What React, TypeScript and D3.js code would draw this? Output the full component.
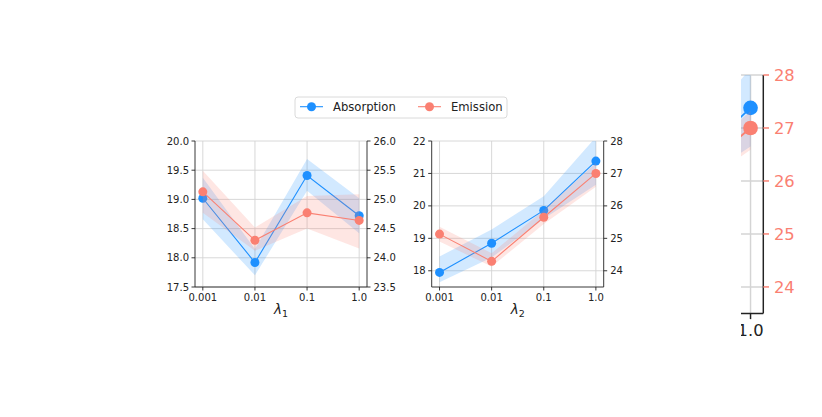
import React from 'react';
import * as d3 from 'd3';

// x categories shared by every panel
const categories = ['0.001', '0.01', '0.1', '1.0'];

// panel 1 (lambda_1)
const absorption1 = [19.02, 17.92, 19.41, 18.72];
const absorption1Lo = [18.66, 17.7, 19.15, 18.42];
const absorption1Hi = [19.37, 18.15, 19.69, 19.02];
const emission1 = [25.13, 24.3, 24.77, 24.64];
const emission1Lo = [24.77, 24.12, 24.5, 24.16];
const emission1Hi = [25.49, 24.52, 25.06, 25.09];

// panel 2 (lambda_2), also drawn as the cropped enlarged copy on the right
const absorption2 = [17.95, 18.85, 19.86, 21.38];
const absorption2Lo = [17.65, 18.41, 19.6, 20.65];
const absorption2Hi = [18.44, 19.27, 20.3, 22.12];
const emission2 = [25.13, 24.29, 25.65, 27.0];
const emission2Lo = [24.9, 24.13, 25.44, 26.59];
const emission2Hi = [25.36, 24.54, 25.87, 27.32];

const leftTicks1 = [17.5, 18.0, 18.5, 19.0, 19.5, 20.0];
const rightTicks1 = [23.5, 24.0, 24.5, 25.0, 25.5, 26.0];
const leftTicks2 = [18, 19, 20, 21, 22];
const rightTicks2 = [24, 25, 26, 27, 28];

const legendLabels = ['Absorption', 'Emission'];

const BLUE = '#1E90FF';
const SALMON = '#FA8072';
const FONT = '"DejaVu Sans", sans-serif';

interface Box { x: number; y: number; w: number; h: number }

interface PanelProps {
  id: string;
  box: Box;
  k: number;
  abs: number[]; absLo: number[]; absHi: number[];
  emi: number[]; emiLo: number[]; emiHi: number[];
  leftDomain: [number, number];
  rightDomain: [number, number];
  leftTicks: number[];
  rightTicks: number[];
  fmt: string;
  sub: string;
  rightColor: string;
  clipLeft?: number;
}

const Panel: React.FC<PanelProps> = (p) => {
  const { box, k } = p;
  const x = d3.scalePoint<string>().domain(categories).range([box.x, box.x + box.w]).padding(0.15);
  const yL = d3.scaleLinear().domain(p.leftDomain).range([box.y + box.h, box.y]);
  const yR = d3.scaleLinear().domain(p.rightDomain).range([box.y + box.h, box.y]);
  const f = d3.format(p.fmt);
  const bottom = box.y + box.h;
  const right = box.x + box.w;
  const tick = 3.5 * k;
  const fs = 10 * k;

  const band = (lo: number[], hi: number[], y: d3.ScaleLinear<number, number>) =>
    d3.area<number>()
      .x((_, i) => x(categories[i])!)
      .y0((_, i) => y(lo[i]))
      .y1((_, i) => y(hi[i]))(lo) || '';
  const line = (vals: number[], y: d3.ScaleLinear<number, number>) =>
    d3.line<number>()
      .x((_, i) => x(categories[i])!)
      .y(d => y(d))(vals) || '';

  const series = [
    { vals: p.abs, lo: p.absLo, hi: p.absHi, y: yL, color: BLUE },
    { vals: p.emi, lo: p.emiLo, hi: p.emiHi, y: yR, color: SALMON },
  ];

  const outerClip = p.clipLeft !== undefined ? `url(#${p.id}-outer)` : undefined;

  return (
    <g clipPath={outerClip} fontFamily={FONT}>
      <defs>
        <clipPath id={`${p.id}-axes`}>
          <rect x={box.x} y={box.y} width={box.w} height={box.h} />
        </clipPath>
        {p.clipLeft !== undefined && (
          <clipPath id={`${p.id}-outer`}>
            <rect x={p.clipLeft} y={0} width={822 - p.clipLeft} height={417} />
          </clipPath>
        )}
      </defs>

      {/* grid */}
      {categories.map(c => (
        <line key={c} x1={x(c)} x2={x(c)} y1={box.y} y2={bottom} stroke="#d4d4d4" strokeWidth={0.9 * k} />
      ))}
      {p.leftTicks.map(t => (
        <line key={t} x1={box.x} x2={right} y1={yL(t)} y2={yL(t)} stroke="#d4d4d4" strokeWidth={0.9 * k} />
      ))}

      {series.map(s => (
        <g key={s.color}>
          <g clipPath={`url(#${p.id}-axes)`}>
            <path d={band(s.lo, s.hi, s.y)} fill={s.color} fillOpacity={0.2} />
            <path d={line(s.vals, s.y)} fill="none" stroke={s.color} strokeWidth={1.1 * k} />
          </g>
          {s.vals.map((v, i) => (
            <circle key={i} cx={x(categories[i])} cy={s.y(v)} r={4.5 * k} fill={s.color} />
          ))}
        </g>
      ))}

      {/* spines */}
      <line x1={box.x} x2={box.x} y1={box.y} y2={bottom} stroke="#222" strokeWidth={0.9 * k} />
      <line x1={right} x2={right} y1={box.y} y2={bottom} stroke="#222" strokeWidth={0.9 * k} />
      <line x1={box.x} x2={right} y1={bottom} y2={bottom} stroke="#222" strokeWidth={0.9 * k} />

      {/* x axis */}
      {categories.map(c => (
        <g key={c}>
          <line x1={x(c)} x2={x(c)} y1={bottom} y2={bottom + tick} stroke="#222" strokeWidth={0.9 * k} />
          <text x={x(c)} y={bottom + tick + 3 * k} dy="0.71em" textAnchor="middle" fontSize={fs} fill="#222">{c}</text>
        </g>
      ))}

      {/* left axis */}
      {p.leftTicks.map(t => (
        <g key={t}>
          <line x1={box.x - tick} x2={box.x} y1={yL(t)} y2={yL(t)} stroke="#222" strokeWidth={0.9 * k} />
          <text x={box.x - tick - 2.5 * k} y={yL(t)} dy="0.35em" textAnchor="end" fontSize={fs} fill="#222">{f(t)}</text>
        </g>
      ))}

      {/* right axis */}
      {p.rightTicks.map(t => (
        <g key={t}>
          <line x1={right} x2={right + tick} y1={yR(t)} y2={yR(t)} stroke={p.rightColor} strokeWidth={0.9 * k} />
          <text x={right + tick + 3 * k} y={yR(t)} dy="0.35em" textAnchor="start" fontSize={fs} fill={p.rightColor}>{f(t)}</text>
        </g>
      ))}

      {/* x label */}
      <text x={(box.x + right) / 2} y={bottom + 27 * k} textAnchor="middle" fontSize={13.5 * k} fill="#222">
        <tspan fontStyle="italic">λ</tspan>
        <tspan fontSize={9.5 * k} dy={3 * k}>{p.sub}</tspan>
      </text>
    </g>
  );
};

const Legend: React.FC = () => {
  const colors = [BLUE, SALMON];
  const item = d3.scaleOrdinal<string, number>().domain(legendLabels).range([300, 418]);
  const cy = 106.7;
  return (
    <g fontFamily={FONT}>
      <rect x={295} y={97} width={212} height={21} rx={3} fill="#fff" stroke="#d6d6d6" strokeWidth={0.9} />
      {legendLabels.map((l, i) => (
        <g key={l}>
          <line x1={item(l)} x2={item(l) + 23} y1={cy} y2={cy} stroke={colors[i]} strokeWidth={1.1} />
          <circle cx={item(l) + 11.5} cy={cy} r={4.5} fill={colors[i]} />
          <text x={item(l) + 33} y={cy} dy="0.36em" fontSize={11.6} fill="#222">{l}</text>
        </g>
      ))}
    </g>
  );
};

export default function App() {
  const k3 = 1.633;
  return (
    <svg width={822} height={417} style={{ position: 'absolute', left: 0, top: 0, background: '#fff' }}>
      <Legend />
      <Panel
        id="p1" box={{ x: 195, y: 141, w: 172, h: 146 }} k={1}
        abs={absorption1} absLo={absorption1Lo} absHi={absorption1Hi}
        emi={emission1} emiLo={emission1Lo} emiHi={emission1Hi}
        leftDomain={[17.5, 20]} rightDomain={[23.5, 26]}
        leftTicks={leftTicks1} rightTicks={rightTicks1} fmt=".1f" sub="1" rightColor="#222"
      />
      <Panel
        id="p2" box={{ x: 431.7, y: 141, w: 172, h: 146 }} k={1}
        abs={absorption2} absLo={absorption2Lo} absHi={absorption2Hi}
        emi={emission2} emiLo={emission2Lo} emiHi={emission2Hi}
        leftDomain={[17.5, 22]} rightDomain={[23.5, 28]}
        leftTicks={leftTicks2} rightTicks={rightTicks2} fmt="d" sub="2" rightColor="#222"
      />
      <Panel
        id="p3" box={{ x: 763.3 - 172 * k3, y: 75, w: 172 * k3, h: 146 * k3 }} k={k3}
        abs={absorption2} absLo={absorption2Lo} absHi={absorption2Hi}
        emi={emission2} emiLo={emission2Lo} emiHi={emission2Hi}
        leftDomain={[17.5, 22]} rightDomain={[23.5, 28]}
        leftTicks={leftTicks2} rightTicks={rightTicks2} fmt="d" sub="2" rightColor={SALMON}
        clipLeft={741}
      />
    </svg>
  );
}
